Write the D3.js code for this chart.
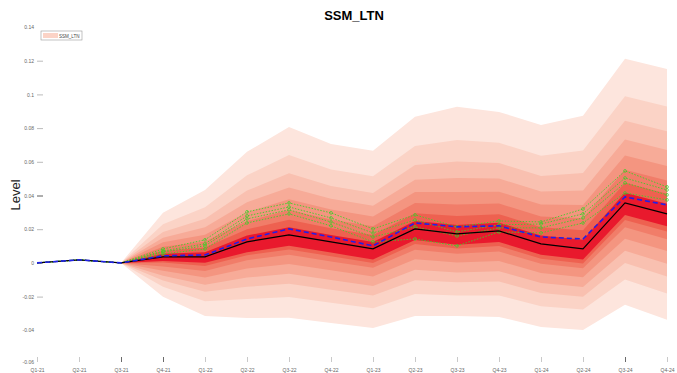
<!DOCTYPE html>
<html>
<head>
<meta charset="utf-8">
<script src="https://cdn.jsdelivr.net/npm/d3@7/dist/d3.min.js"></script>
<style>
  body { margin: 0; background: #fff; }
  svg { display: block; font-family: "Liberation Sans", Arial, sans-serif; }
</style>
</head>
<body>
<svg id="chart" width="677" height="373"></svg>
<script>
// Quarters on the x axis
const quarters = ["Q1-21","Q2-21","Q3-21","Q4-21","Q1-22","Q2-22","Q3-22","Q4-22",
                  "Q1-23","Q2-23","Q3-23","Q4-23","Q1-24","Q2-24","Q3-24","Q4-24"];

// Central projection (solid black) and mean path (blue dashed)
const median = [0, 0.0018, 0, 0.0036, 0.0036, 0.0125, 0.0166, 0.0125, 0.0083, 0.0202, 0.0172, 0.0190, 0.0113, 0.0083, 0.0356, 0.0291];
const mean   = [0, 0.0018, 0, 0.0042, 0.0047, 0.0142, 0.0202, 0.0154, 0.0101, 0.0237, 0.0214, 0.0220, 0.0154, 0.0142, 0.0392, 0.0344];

// Alternative paths (green dotted)
const altPath1 = [0, 0.0018, 0, 0.0083, 0.0137, 0.0303, 0.0356, 0.0297, 0.0202, 0.0285, 0.0214, 0.0249, 0.0243, 0.0320, 0.0546, 0.0451];
const altPath2 = [0, 0.0018, 0, 0.0071, 0.0113, 0.0279, 0.0332, 0.0267, 0.0178, 0.0255, 0.0184, 0.0226, 0.0231, 0.0291, 0.0504, 0.0433];
const altPath3 = [0, 0.0018, 0, 0.0065, 0.0101, 0.0261, 0.0315, 0.0243, 0.0154, 0.0214, 0.0160, 0.0208, 0.0208, 0.0267, 0.0475, 0.0404];
const altPath4 = [0, 0.0018, 0, 0.0053, 0.0083, 0.0237, 0.0291, 0.0220, 0.0125, 0.0142, 0.0101, 0.0184, 0.0178, 0.0237, 0.0415, 0.0374];

// Fan quantile bounds, Q3-21 .. Q4-24 (lo1/hi1 innermost, lo8/hi8 outermost)
const fanQuarters = quarters.slice(2);
const lo8 = [0, -0.0201, -0.0315, -0.0327, -0.0326, -0.0356, -0.0386, -0.0315, -0.0315, -0.0321, -0.0380, -0.0398, -0.0249, -0.0338];
const lo7 = [0, -0.0142, -0.0227, -0.0214, -0.0203, -0.0236, -0.0269, -0.0185, -0.0193, -0.0193, -0.0257, -0.0277, -0.0098, -0.0181];
const lo6 = [0, -0.0104, -0.0171, -0.0142, -0.0124, -0.0159, -0.0194, -0.0103, -0.0115, -0.0111, -0.0178, -0.0201, -0.0001, -0.0080];
const lo5 = [0, -0.0076, -0.0129, -0.0087, -0.0065, -0.0101, -0.0137, -0.0041, -0.0057, -0.0050, -0.0119, -0.0143, 0.0072, -0.0005];
const lo4 = [0, -0.0047, -0.0087, -0.0033, -0.0006, -0.0044, -0.0081, 0.0021, 0.0002, 0.0011, -0.0060, -0.0085, 0.0144, 0.0071];
const lo3 = [0, -0.0021, -0.0048, 0.0016, 0.0048, 0.0009, -0.0029, 0.0078, 0.0055, 0.0067, -0.0005, -0.0032, 0.0211, 0.0140];
const lo2 = [0, 0.0002, -0.0018, 0.0045, 0.0080, 0.0040, 0.0000, 0.0112, 0.0086, 0.0100, 0.0025, -0.0003, 0.0255, 0.0187];
const lo1 = [0, 0.0012, 0.0001, 0.0063, 0.0102, 0.0061, 0.0020, 0.0136, 0.0108, 0.0124, 0.0048, 0.0020, 0.0284, 0.0217];
const hi1 = [0, 0.0054, 0.0063, 0.0162, 0.0211, 0.0165, 0.0124, 0.0248, 0.0225, 0.0239, 0.0162, 0.0138, 0.0416, 0.0351];
const hi2 = [0, 0.0072, 0.0091, 0.0199, 0.0256, 0.0206, 0.0165, 0.0295, 0.0278, 0.0289, 0.0212, 0.0194, 0.0476, 0.0411];
const hi3 = [0, 0.0096, 0.0127, 0.0248, 0.0314, 0.0258, 0.0217, 0.0355, 0.0346, 0.0352, 0.0275, 0.0265, 0.0553, 0.0489];
const hi4 = [0, 0.0122, 0.0167, 0.0301, 0.0378, 0.0317, 0.0275, 0.0421, 0.0421, 0.0423, 0.0346, 0.0344, 0.0638, 0.0575];
const hi5 = [0, 0.0150, 0.0211, 0.0360, 0.0448, 0.0381, 0.0339, 0.0494, 0.0504, 0.0501, 0.0424, 0.0430, 0.0732, 0.0670];
const hi6 = [0, 0.0184, 0.0262, 0.0429, 0.0532, 0.0456, 0.0415, 0.0581, 0.0602, 0.0593, 0.0515, 0.0533, 0.0843, 0.0781];
const hi7 = [0, 0.0229, 0.0330, 0.0520, 0.0641, 0.0555, 0.0514, 0.0694, 0.0730, 0.0713, 0.0636, 0.0667, 0.0989, 0.0928];
const hi8 = [0, 0.0297, 0.0433, 0.0659, 0.0807, 0.0706, 0.0665, 0.0867, 0.0926, 0.0896, 0.0819, 0.0873, 0.1211, 0.1151];

// Y tick values
const yTicks = [0.14, 0.12, 0.1, 0.08, 0.06, 0.04, 0.02, 0, -0.02, -0.04, -0.06];

// Nested band pairs, outermost first, with fill colours from light to deep red
const bandPairs = [[lo8, hi8], [lo7, hi7], [lo6, hi6], [lo5, hi5], [lo4, hi4], [lo3, hi3], [lo2, hi2], [lo1, hi1]];
const bandColors = ["#fde5dd", "#fbd3c6", "#f9c0b0", "#f7ab98", "#f49580", "#f17d69", "#ee6150", "#e9192d"];

const svg = d3.select("#chart");

const x = d3.scalePoint().domain(quarters).range([37, 667]);
const y = d3.scaleLinear().domain([-0.06, 0.14]).range([364, 27]);

// Fan bands
const area = d3.area()
  .x(d => x(d.q))
  .y0(d => y(d.lo))
  .y1(d => y(d.hi));

const fan = svg.append("g");
bandPairs.forEach(([lo, hi], i) => {
  const rows = fanQuarters.map((q, j) => ({ q, lo: lo[j], hi: hi[j] }));
  fan.append("path")
    .attr("d", area(rows))
    .attr("fill", bandColors[i]);
});

// Y axis
const yAxis = svg.append("g")
  .attr("transform", "translate(43,0)")
  .call(d3.axisLeft(y).tickValues(yTicks).tickSize(6).tickPadding(3)
    .tickFormat(d => d === 0 ? "0" : String(+d.toFixed(2))));
yAxis.select(".domain").remove();
yAxis.selectAll(".tick line")
  .attr("stroke", d => d === 0.04 ? "#333" : "#aaa")
  .attr("stroke-width", 0.8)
  .attr("opacity", d => (d === 0.14 || d === -0.04 || d === -0.06) ? 0 : 1);
yAxis.selectAll(".tick text")
  .attr("font-size", 5)
  .attr("fill", "#666");
// lift the bottom label clear of the first quarter label
yAxis.selectAll(".tick text").filter(d => d === -0.06).attr("dy", "-0.1em");

// X axis
const xAxis = svg.append("g")
  .attr("transform", "translate(0,357)")
  .call(d3.axisBottom(x).tickSize(5).tickPadding(6));
xAxis.select(".domain").remove();
xAxis.selectAll(".tick line")
  .attr("stroke", d => (d === "Q3-24" || d === "Q4-21" || d === "Q3-21") ? "#444" : "#bbb")
  .attr("stroke-width", 0.8);
xAxis.selectAll(".tick text")
  .attr("font-size", 5)
  .attr("fill", "#666");

// Lines
const line = d3.line().x((d, i) => x(quarters[i])).y(d => y(d));

const altPaths = [altPath1, altPath2, altPath3, altPath4];
const greens = svg.append("g");
altPaths.forEach(p => {
  greens.append("path")
    .attr("d", line(p))
    .attr("fill", "none")
    .attr("stroke", "#3ccf28")
    .attr("stroke-width", 0.9)
    .attr("stroke-dasharray", "1.5,1.5");
  greens.selectAll(null)
    .data(p.slice(3).map((v, k) => ({ q: quarters[k + 3], v })))
    .join("circle")
    .attr("cx", d => x(d.q))
    .attr("cy", d => y(d.v))
    .attr("r", 1.4)
    .attr("fill", "none")
    .attr("stroke", "#3ccf28")
    .attr("stroke-width", 0.7);
});

svg.append("path")
  .attr("d", line(median))
  .attr("fill", "none")
  .attr("stroke", "#000")
  .attr("stroke-width", 1.2);

svg.append("path")
  .attr("d", line(mean))
  .attr("fill", "none")
  .attr("stroke", "#2020e8")
  .attr("stroke-width", 1.6)
  .attr("stroke-dasharray", "5,3");

// Title
svg.append("text")
  .attr("x", 354)
  .attr("y", 20)
  .attr("text-anchor", "middle")
  .attr("font-size", 13)
  .attr("font-weight", "bold")
  .text("SSM_LTN");

// Y label
svg.append("text")
  .attr("transform", "translate(20,195) rotate(-90)")
  .attr("text-anchor", "middle")
  .attr("font-size", 13)
  .attr("fill", "#222")
  .text("Level");

// Legend
const legend = svg.append("g");
legend.append("rect")
  .attr("x", 41).attr("y", 31).attr("width", 41).attr("height", 9)
  .attr("fill", "#fff").attr("stroke", "#999").attr("stroke-width", 0.6);
legend.append("rect")
  .attr("x", 43).attr("y", 33).attr("width", 15).attr("height", 5)
  .attr("fill", bandColors[1]);
legend.append("text")
  .attr("x", 59).attr("y", 37.6)
  .attr("font-size", 4.5)
  .attr("fill", "#444")
  .text("SSM_LTN");
</script>
</body>
</html>
